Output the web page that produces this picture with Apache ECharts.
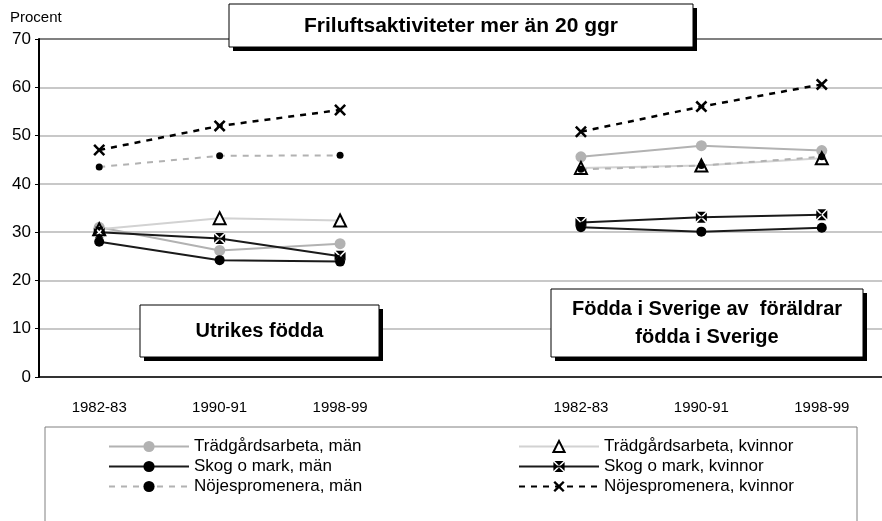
<!DOCTYPE html>
<html>
<head>
<meta charset="utf-8">
<script src="https://cdn.jsdelivr.net/npm/echarts@6/dist/echarts.min.js"></script>
<style>
  html, body { margin: 0; padding: 0; background: #fff; }
  #chart { width: 882px; height: 521px; }
</style>
</head>
<body>
<div id="chart"></div>
<script>
// kategorier: tre perioder per grupp, tom kategori som mellanrum
const categories = ['1982-83', '1990-91', '1998-99', '', '1982-83', '1990-91', '1998-99'];
const yTicks = [0, 10, 20, 30, 40, 50, 60, 70];

// procent, utrikes födda | födda i Sverige
const tradgardMan     = [31.0, 26.2, 27.6, null, 45.6, 47.9, 46.9];
const tradgardKvinnor = [30.6, 32.9, 32.4, null, 43.3, 43.8, 45.3];
const skogMan         = [28.0, 24.2, 23.9, null, 31.0, 30.1, 30.9];
const skogKvinnor     = [30.0, 28.7, 25.0, null, 32.0, 33.1, 33.6];
const nojesMan        = [43.5, 45.8, 45.9, null, 43.0, 43.8, 45.6];
const nojesKvinnor    = [47.0, 52.0, 55.3, null, 50.8, 56.0, 60.6];

const FONT = '"Liberation Sans", Arial, sans-serif';

// markörer
const boxX = 'path://M1,0 L9,0 L5,4 Z M1,10 L9,10 L5,6 Z M0,1 L0,9 L4,5 Z M10,1 L10,9 L6,5 Z';
const crossX = 'path://M0,1.5 L1.5,0 L5,3.5 L8.5,0 L10,1.5 L6.5,5 L10,8.5 L8.5,10 L5,6.5 L1.5,10 L0,8.5 L3.5,5 Z';

const chart = echarts.init(document.getElementById('chart'));

function boxWithShadow(x, y, w, h, lines, cy, size) {
  const els = [
    { type: 'rect', shape: { x: x + 4, y: y + 4, width: w, height: h }, style: { fill: '#000' }, z: 100 },
    { type: 'rect', shape: { x: x, y: y, width: w, height: h }, style: { fill: '#fff', stroke: '#000', lineWidth: 1 }, z: 101 }
  ];
  lines.forEach((t, i) => {
    els.push({
      type: 'text', z: 102,
      x: x + w / 2, y: cy[i],
      style: { text: t, fill: '#000', font: 'bold ' + size + 'px ' + FONT, textAlign: 'center', textVerticalAlign: 'middle' }
    });
  });
  return els;
}

const legendBase = {
  orient: 'vertical', top: 438, padding: 0,
  itemWidth: 80, itemHeight: 14, itemGap: 3,
  textStyle: { color: '#000', fontSize: 17, fontFamily: FONT, lineHeight: 15 }
};

const option = {
  animation: false,
  grid: { left: 39, width: 849, top: 39, bottom: 144, containLabel: false },
  xAxis: {
    type: 'category',
    data: categories,
    boundaryGap: true,
    axisLine: { lineStyle: { color: '#000', width: 1.5 } },
    axisTick: { show: false },
    axisLabel: { color: '#000', fontSize: 15, fontFamily: FONT, margin: 23, interval: 0 }
  },
  yAxis: {
    type: 'value',
    min: yTicks[0],
    max: yTicks[yTicks.length - 1],
    interval: 10,
    axisLine: { show: true, lineStyle: { color: '#000', width: 2 } },
    axisTick: { show: true, length: 4, lineStyle: { color: '#000' } },
    axisLabel: { color: '#000', fontSize: 17, fontFamily: FONT, margin: 8 },
    splitLine: {
      lineStyle: {
        color: ['#c8c8c8', '#c8c8c8', '#c8c8c8', '#c8c8c8', '#c8c8c8', '#c8c8c8', '#c8c8c8', '#808080'],
        width: 2
      }
    }
  },
  legend: [
    Object.assign({}, legendBase, {
      data: ['Trädgårdsarbeta, män', 'Skog o mark, män', 'Nöjespromenera, män'],
      left: 108
    }),
    Object.assign({}, legendBase, {
      data: ['Trädgårdsarbeta, kvinnor', 'Skog o mark, kvinnor', 'Nöjespromenera, kvinnor'],
      left: 518
    })
  ],
  graphic: [
    { type: 'rect', shape: { x: 45, y: 427, width: 812, height: 100 }, style: { fill: 'none', stroke: '#808080', lineWidth: 1 }, z: 0 },
    { type: 'text', x: 10, y: 18, style: { text: 'Procent', fill: '#000', font: '15px ' + FONT, textVerticalAlign: 'middle' } },
    ...boxWithShadow(229, 4, 464, 43, ['Friluftsaktiviteter mer än 20 ggr'], [26], 21),
    ...boxWithShadow(140, 305, 239, 52, ['Utrikes födda'], [331], 20),
    ...boxWithShadow(551, 289, 312, 68, ['Födda i Sverige av  föräldrar', 'födda i Sverige'], [309, 337], 20)
  ],
  series: [
    {
      name: 'Trädgårdsarbeta, män', type: 'line', data: tradgardMan,
      symbol: 'circle', symbolSize: 11,
      itemStyle: { color: '#b2b2b2' },
      lineStyle: { color: '#b2b2b2', width: 2 }
    },
    {
      name: 'Trädgårdsarbeta, kvinnor', type: 'line', data: tradgardKvinnor,
      symbol: 'triangle', symbolSize: 12,
      itemStyle: { color: '#fff', borderColor: '#000', borderWidth: 2 },
      lineStyle: { color: '#d2d2d2', width: 2 }
    },
    {
      name: 'Skog o mark, män', type: 'line', data: skogMan,
      symbol: 'circle', symbolSize: 10,
      itemStyle: { color: '#000' },
      lineStyle: { color: '#1a1a1a', width: 2 }
    },
    {
      name: 'Skog o mark, kvinnor', type: 'line', data: skogKvinnor,
      symbol: boxX, symbolSize: 11,
      itemStyle: { color: '#000' },
      lineStyle: { color: '#1a1a1a', width: 2 }
    },
    {
      name: 'Nöjespromenera, män', type: 'line', data: nojesMan,
      symbol: 'circle', symbolSize: 7,
      itemStyle: { color: '#000' },
      lineStyle: { color: '#b2b2b2', width: 2, type: [6, 6] }
    },
    {
      name: 'Nöjespromenera, kvinnor', type: 'line', data: nojesKvinnor,
      symbol: crossX, symbolSize: 12,
      itemStyle: { color: '#000' },
      lineStyle: { color: '#000', width: 2.5, type: [6, 6] }
    }
  ]
};

chart.setOption(option);
</script>
</body>
</html>
